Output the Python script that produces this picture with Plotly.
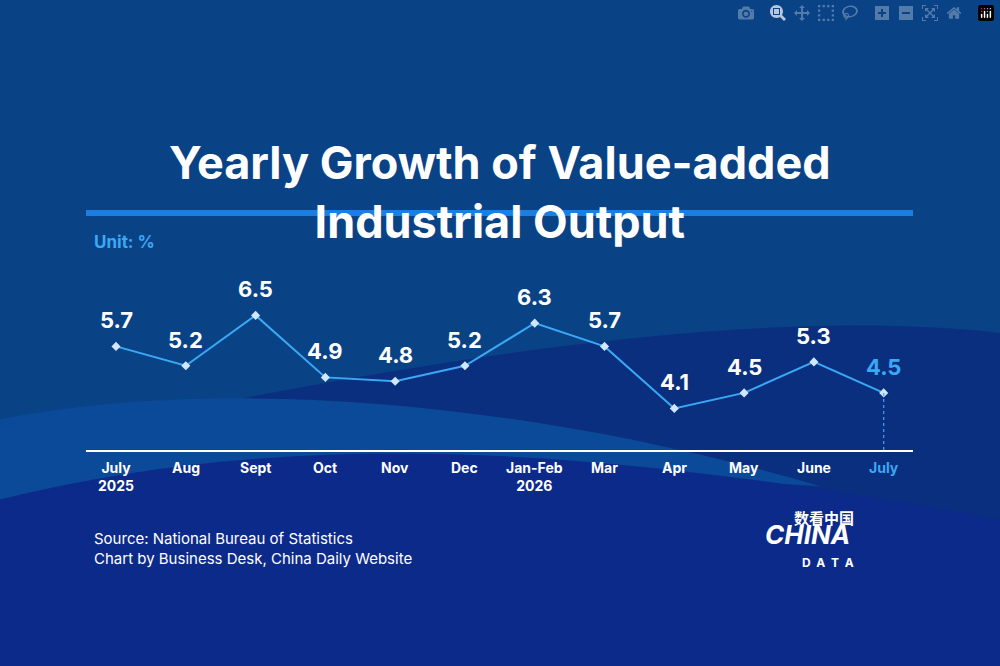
import plotly.graph_objects as go

months = ["July<br>2025", "Aug", "Sept", "Oct", "Nov", "Dec", "Jan-Feb<br>2026",
          "Mar", "Apr", "May", "June", "July"]
growth = [5.7, 5.2, 6.5, 4.9, 4.8, 5.2, 6.3, 5.7, 4.1, 4.5, 5.3, 4.5]
xs = list(range(len(months)))

LINE = "#3aa9f5"
FONT = "Inter, Open Sans, sans-serif"
BASE = 215 / 666  # axis baseline in figure fraction

fig = go.Figure()

fig.add_trace(go.Scatter(x=xs, y=growth, mode="lines+markers",
                         line=dict(color=LINE, width=2),
                         marker=dict(symbol="diamond", size=7, color="#cfe8ff"),
                         cliponaxis=False, hoverinfo="skip"))
fig.add_trace(go.Scatter(x=[xs[-1], xs[-1]], y=[growth[-1], 3], mode="lines",
                         line=dict(color=LINE, width=1.2, dash="dot"),
                         cliponaxis=False, hoverinfo="skip"))

anns = []
for i, v in enumerate(growth):
    anns.append(dict(x=i, y=v, text=f"<b>{v}</b>", showarrow=False, yshift=26,
                     font=dict(size=22, color="#ffffff" if i < 11 else LINE, family=FONT)))
    anns.append(dict(x=i, y=BASE, yref="paper", text=f"<b>{months[i]}</b>", showarrow=False,
                     yanchor="top", yshift=-6,
                     font=dict(size=14, color="#ffffff" if i < 11 else LINE, family=FONT)))

anns += [
    dict(x=0.5, y=1 - 133 / 666, xref="paper", yref="paper", showarrow=False,
         text="<b>Yearly Growth of Value-added<br>Industrial Output</b>",
         font=dict(size=45, color="white", family=FONT)),
    dict(x=92 / 1000, y=1 - 242 / 666, xref="paper", yref="paper", xanchor="left", showarrow=False,
         text="<b>Unit: %</b>", font=dict(size=17, color=LINE, family=FONT)),
    dict(x=92 / 1000, y=1 - 548 / 666, xref="paper", yref="paper", xanchor="left", yanchor="middle",
         align="left", showarrow=False,
         text="Source: National Bureau of Statistics<br>Chart by Business Desk, China Daily Website",
         font=dict(size=15, color="white", family=FONT)),
    dict(x=856 / 1000, y=1 - 530 / 666, xref="paper", yref="paper", showarrow=False,
         text="<b>数看中国</b>", font=dict(size=15, color="white", family="Noto Sans CJK SC")),
    dict(x=852 / 1000, y=1 - 552 / 666, xref="paper", yref="paper", showarrow=False,
         text="<b><i>CHINA</i></b>", font=dict(size=26, color="white", family=FONT)),
    dict(x=856 / 1000, y=1 - 572 / 666, xref="paper", yref="paper", showarrow=False,
         text="<b>D  A  T  A</b>", font=dict(size=12, color="white", family=FONT)),
]

shapes = [
    # dark band wave
    dict(type="path", xref="paper", yref="paper", layer="below", line_width=0,
         fillcolor="#0a2f7e",
         path="M 0,0.33 C 0.3,0.42 0.7,0.55 1,0.5 L 1,0 L 0,0 Z"),
    # lighter wave from left
    dict(type="path", xref="paper", yref="paper", layer="below", line_width=0,
         fillcolor="#0b4a99",
         path="M 0,0.37 C 0.2,0.43 0.5,0.41 0.82,0.27 C 0.5,0.3 0.25,0.3 0,0.2 Z"),
    dict(type="path", xref="paper", yref="paper", layer="below", line_width=0,
         fillcolor="#0c2a8a",
         path="M 0,0.25 C 0.3,0.36 0.6,0.33 1,0.22 L 1,0 L 0,0 Z"),
    # title underline bar
    dict(type="rect", xref="paper", yref="paper", x0=86 / 1000, x1=913 / 1000,
         y0=1 - 216 / 666, y1=1 - 210 / 666, fillcolor="#1a7fe0", line_width=0),
    # axis baseline
    dict(type="line", xref="paper", yref="paper", x0=86 / 1000, x1=913 / 1000, y0=BASE, y1=BASE,
         line=dict(color="white", width=2)),
]

fig.update_layout(
    width=1000, height=666, showlegend=False,
    margin=dict(l=0, r=0, t=0, b=0),
    paper_bgcolor="#0a4286", plot_bgcolor="rgba(0,0,0,0)",
    xaxis=dict(range=[-0.43, 11.42], domain=[0.086, 0.913], visible=False),
    yaxis=dict(range=[3, 7], domain=[BASE, 370 / 666], visible=False),
    annotations=anns, shapes=shapes,
)

fig.write_html("out.html", post_script="document.body.style.margin='0';")
